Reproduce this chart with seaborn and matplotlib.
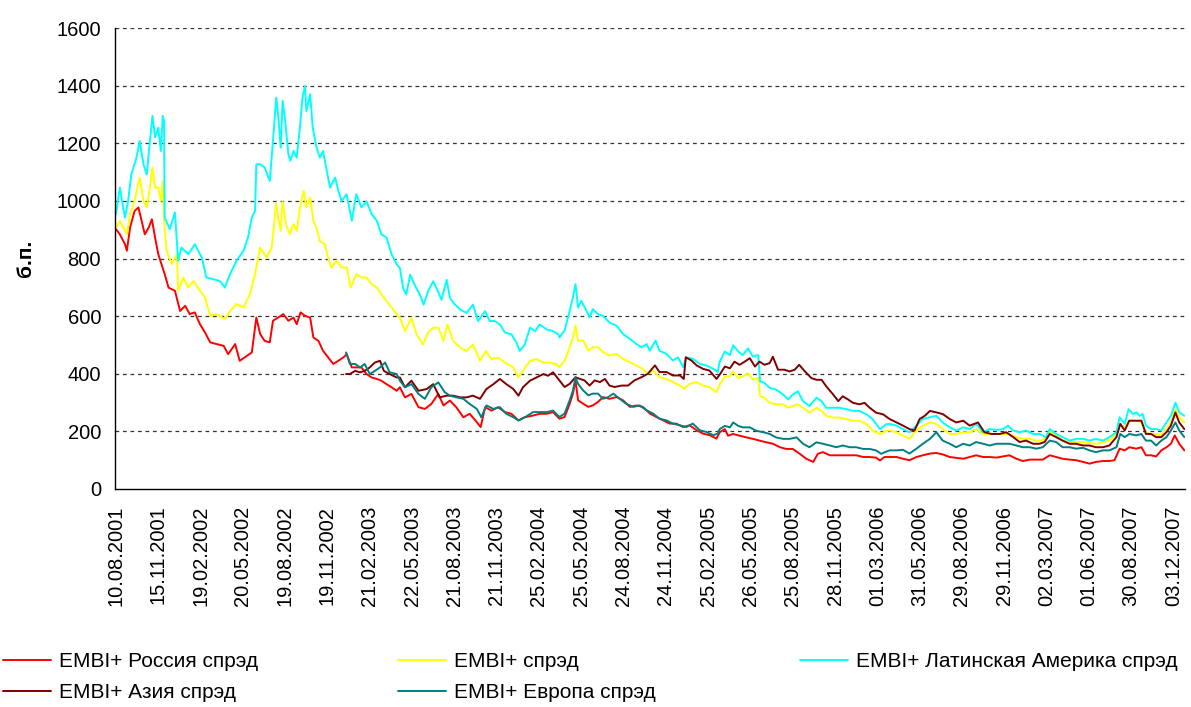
import numpy as np
import pandas as pd
import matplotlib
matplotlib.use("Agg")
import matplotlib.pyplot as plt
from matplotlib.lines import Line2D
import seaborn as sns

# ---------------- data (trading-day index, basis points) ----------------
tick_labels = ["10.08.2001", "15.11.2001", "19.02.2002", "20.05.2002", "19.08.2002",
               "19.11.2002", "21.02.2003", "22.05.2003", "21.08.2003", "21.11.2003",
               "25.02.2004", "25.05.2004", "24.08.2004", "24.11.2004", "25.02.2005",
               "26.05.2005", "25.08.2005", "28.11.2005", "01.03.2006", "31.05.2006",
               "29.08.2006", "29.11.2006", "02.03.2007", "01.06.2007", "30.08.2007",
               "03.12.2007"]
label_step = 66

russia_day = [0, 6, 14, 17, 22, 29, 35, 40, 45, 51, 56, 61, 66, 71, 76, 82, 92, 100, 108, 115, 123, 131, 139, 147, 157, 168, 175, 186, 193, 201, 212, 219,
              225, 232, 240, 245, 253, 261, 269, 277, 282, 288, 295, 303, 308, 316, 323, 331, 339, 347, 355, 360, 368, 375, 383, 391, 399, 407, 414, 422, 430, 438,
              443, 451, 461, 472, 482, 492, 503, 511, 521, 531, 542, 552, 563, 569, 576, 586, 596, 607, 617, 628, 638, 651, 661, 672, 682,
              692, 700, 708, 713, 717, 721, 729, 737, 744, 752, 760, 770, 781, 791, 802, 812, 822, 833, 843, 854, 864, 874, 885, 895, 906, 916, 926, 937,
              942, 950, 955, 963, 973, 984, 994, 1004, 1015, 1025, 1036, 1046, 1056, 1067, 1077, 1088, 1095, 1103, 1114, 1124, 1134, 1145, 1155, 1166, 1176, 1186, 1192, 1199,
              1207, 1218, 1228, 1238, 1249, 1259, 1270, 1280, 1290, 1301, 1311, 1322, 1332, 1342, 1353, 1363, 1374, 1384, 1394, 1405, 1415, 1426, 1436, 1446,
              1457, 1467, 1477, 1488, 1498, 1509, 1519, 1529, 1540, 1550, 1558, 1566, 1574, 1581, 1592, 1600, 1607, 1615, 1623, 1631, 1639, 1646, 1652, 1659, 1667]
russia_bp = [902, 884, 850, 827, 907, 965, 977, 930, 884, 907, 936, 873, 815, 780, 746, 699, 688, 618, 636, 607, 613, 572, 543, 509, 503, 497, 468, 503, 445, 457, 474, 595,
             538, 514, 509, 584, 595, 607, 584, 595, 572, 613, 601, 595, 526, 514, 480, 457, 434, 445, 457, 468, 422, 422, 422, 399, 387, 382, 376, 364, 353, 341,
             353, 318, 330, 284, 278, 295, 330, 290, 307, 284, 249, 261, 232, 215, 284, 272, 284, 267, 261, 238, 249, 255, 261, 261, 267,
             244, 250, 296, 331, 377, 308, 296, 285, 290, 302, 319, 313, 319, 308, 285, 290, 285, 262, 250, 238, 227, 227, 215, 221, 204, 192, 187, 175,
             197, 208, 185, 191, 185, 179, 174, 168, 162, 157, 145, 139, 139, 122, 105, 94, 122, 128, 117, 117, 117, 117, 117, 111, 111, 109, 99, 111,
             111, 111, 105, 100, 111, 117, 123, 125, 120, 111, 108, 105, 111, 117, 111, 111, 109, 113, 117, 105, 97, 102, 102, 102,
             117, 111, 105, 102, 100, 94, 88, 94, 97, 97, 100, 140, 134, 145, 140, 145, 117, 117, 113, 134, 145, 157, 186, 157, 134]

embi_day = [0, 6, 17, 22, 29, 37, 43, 48, 53, 57, 61, 66, 70, 73, 75, 79, 87, 95, 97, 105, 113, 121, 131, 139, 147, 157, 170, 178, 188, 199, 209, 217,
            225, 235, 243, 250, 253, 257, 260, 265, 271, 277, 282, 287, 293, 297, 303, 308, 313, 318, 326, 331, 336, 344, 352, 360, 366, 375, 383, 391, 399, 407, 414, 422, 430, 438,
            443, 451, 461, 469, 479, 487, 495, 503, 511, 517, 526, 537, 547, 557, 568, 577, 586, 596, 607, 620, 628, 635, 646, 656, 667, 677, 687,
            692, 700, 708, 713, 717, 721, 729, 737, 744, 752, 760, 770, 781, 791, 802, 812, 822, 830, 838, 848, 859, 869, 880, 887, 895, 906, 916, 926, 937,
            942, 950, 958, 963, 971, 978, 986, 994, 1002, 1005, 1012, 1020, 1030, 1041, 1049, 1056, 1064, 1072, 1082, 1093, 1101, 1108, 1119, 1129, 1140, 1150, 1160, 1171, 1181, 1192, 1202,
            1207, 1218, 1228, 1238, 1249, 1259, 1270, 1280, 1290, 1301, 1311, 1322, 1332, 1342, 1353, 1363, 1374, 1384, 1394, 1405, 1415, 1426, 1436, 1446,
            1457, 1467, 1477, 1488, 1498, 1509, 1519, 1529, 1540, 1550, 1561, 1566, 1574, 1581, 1592, 1600, 1607, 1615, 1623, 1631, 1639, 1646, 1653, 1659, 1667]
embi_bp = [907, 930, 884, 954, 1000, 1081, 1000, 977, 1046, 1116, 1046, 1046, 1000, 1069, 930, 827, 780, 815, 688, 734, 699, 722, 688, 665, 601, 607, 590, 618, 642, 630, 676, 746,
           838, 803, 838, 992, 942, 896, 998, 919, 884, 919, 896, 977, 1035, 977, 1012, 930, 907, 861, 850, 803, 769, 792, 769, 769, 699, 746, 734, 734, 711, 699, 676, 653, 630, 607,
           594, 548, 594, 537, 502, 543, 560, 560, 514, 571, 514, 491, 479, 502, 445, 479, 451, 456, 439, 422, 387, 410, 445, 451, 439, 439, 433,
           423, 446, 492, 526, 567, 515, 515, 480, 492, 492, 475, 463, 469, 452, 440, 429, 417, 400, 411, 388, 382, 371, 359, 348, 365, 371, 359, 354, 336,
           362, 391, 391, 408, 385, 391, 402, 379, 385, 322, 317, 299, 294, 294, 282, 288, 294, 282, 265, 282, 271, 254, 248, 248, 242, 237, 237, 225, 202, 191, 202,
           203, 197, 186, 174, 203, 220, 231, 226, 208, 191, 191, 197, 197, 208, 191, 191, 191, 191, 191, 180, 174, 174, 168, 168,
           197, 186, 168, 163, 163, 163, 159, 157, 163, 168, 191, 226, 214, 237, 237, 231, 197, 191, 191, 186, 208, 231, 277, 249, 231]

latam_day = [0, 6, 14, 19, 24, 32, 37, 43, 48, 53, 57, 61, 66, 70, 73, 75, 76, 84, 92, 97, 102, 113, 123, 134, 141, 152, 162, 170, 178, 188, 199, 206, 212, 217, 219,
             225, 232, 240, 245, 250, 253, 257, 260, 264, 269, 272, 277, 282, 287, 291, 295, 297, 303, 307, 313, 318, 323, 329, 334, 342, 347, 352, 360, 368, 375, 383, 391, 399, 407, 414, 422, 430, 438,
             443, 448, 453, 459, 466, 474, 480, 487, 495, 500, 508, 516, 521, 529, 537, 547, 557, 565, 576, 583, 591, 599, 607, 617, 625, 630, 638, 646, 654, 661, 672, 682, 690,
             692, 700, 708, 713, 717, 721, 726, 734, 739, 744, 752, 760, 770, 781, 791, 802, 812, 820, 828, 833, 842, 848, 859, 869, 877, 885, 890, 900, 911, 921, 932, 939,
             942, 950, 958, 963, 971, 978, 986, 994, 1002, 1005, 1012, 1020, 1030, 1041, 1049, 1056, 1064, 1072, 1082, 1093, 1101, 1108, 1119, 1129, 1140, 1150, 1160, 1171, 1181, 1192, 1202,
             1207, 1218, 1228, 1238, 1249, 1259, 1270, 1280, 1290, 1301, 1311, 1322, 1332, 1342, 1353, 1363, 1374, 1384, 1392, 1400, 1410, 1420, 1431, 1441, 1451,
             1457, 1467, 1477, 1488, 1498, 1509, 1519, 1529, 1540, 1550, 1561, 1566, 1574, 1580, 1587, 1592, 1597, 1602, 1607, 1615, 1623, 1631, 1639, 1646, 1653, 1659, 1667]
latam_bp = [954, 1046, 942, 1000, 1092, 1150, 1208, 1127, 1092, 1208, 1295, 1220, 1254, 1173, 1295, 1277, 942, 902, 960, 792, 838, 815, 850, 803, 734, 728, 722, 699, 746, 792, 827, 873, 942, 965, 1127,
            1127, 1116, 1069, 1208, 1358, 1300, 1185, 1347, 1277, 1162, 1139, 1173, 1150, 1254, 1358, 1399, 1312, 1370, 1254, 1185, 1150, 1173, 1104, 1046, 1081, 1035, 1000, 1023, 931, 1023, 977, 998, 954, 931, 884, 873, 815, 780,
            767, 698, 675, 744, 709, 675, 640, 686, 721, 698, 657, 726, 663, 640, 623, 611, 640, 583, 617, 583, 583, 571, 543, 537, 508, 479, 502, 560, 548, 571, 554, 548, 537,
            526, 550, 619, 665, 711, 630, 653, 619, 596, 624, 607, 601, 578, 567, 538, 521, 503, 492, 503, 480, 515, 480, 469, 446, 457, 423, 457, 452, 434, 429, 417, 406,
            442, 477, 465, 499, 477, 465, 488, 459, 465, 374, 368, 351, 345, 328, 311, 328, 339, 305, 288, 317, 305, 282, 282, 282, 277, 271, 271, 259, 242, 208, 225,
            226, 220, 208, 197, 220, 243, 249, 254, 231, 214, 203, 214, 208, 226, 197, 208, 205, 208, 220, 203, 197, 203, 191, 191, 180,
            208, 191, 180, 168, 174, 174, 168, 174, 168, 180, 197, 249, 226, 277, 260, 266, 254, 260, 220, 208, 208, 203, 231, 254, 300, 266, 254]

asia_day = [359, 365, 373, 381, 388, 396, 404, 412, 418, 427, 438,
            443, 451, 461, 472, 485, 495, 505, 516, 526, 537, 547, 557, 568, 578, 589, 599, 609, 620, 628, 635, 646, 656, 667, 674, 682,
            692, 700, 708, 717, 724, 731, 739, 747, 755, 763, 770, 778, 789, 799, 809, 820, 830, 841, 848, 859, 869, 880, 886, 889, 898, 906, 916, 926, 937,
            942, 950, 958, 965, 973, 981, 989, 997, 1004, 1012, 1020, 1025, 1033, 1043, 1051, 1059, 1066, 1075, 1085, 1093, 1101, 1108, 1119, 1127, 1134, 1142, 1150, 1160, 1168, 1176, 1186, 1197,
            1207, 1218, 1228, 1238, 1246, 1254, 1262, 1270, 1280, 1290, 1301, 1311, 1322, 1332, 1345, 1355, 1366, 1379, 1389, 1400, 1410, 1420, 1431, 1441, 1449,
            1457, 1467, 1477, 1488, 1498, 1509, 1519, 1529, 1540, 1550, 1561, 1567, 1574, 1581, 1592, 1600, 1607, 1615, 1623, 1631, 1639, 1646, 1653, 1659, 1667]
asia_bp = [399, 399, 410, 405, 410, 422, 439, 445, 410, 399, 387,
           387, 353, 376, 341, 347, 364, 318, 324, 324, 318, 318, 324, 313, 347, 364, 382, 364, 347, 324, 353, 376, 387, 399, 393, 405,
           377, 354, 365, 388, 382, 377, 359, 377, 371, 382, 359, 354, 359, 359, 377, 388, 400, 429, 406, 406, 394, 394, 382, 457, 446, 429, 417, 411, 382,
           397, 425, 419, 442, 431, 442, 454, 425, 442, 431, 437, 459, 414, 414, 408, 414, 431, 408, 385, 379, 379, 357, 328, 305, 322, 311, 299, 294, 299, 282, 265, 259,
           243, 231, 220, 208, 203, 243, 254, 271, 266, 260, 243, 231, 237, 220, 231, 197, 191, 191, 197, 180, 163, 168, 157, 157, 163,
           191, 180, 168, 157, 157, 151, 151, 145, 145, 151, 180, 226, 203, 237, 237, 237, 191, 191, 180, 180, 197, 220, 266, 231, 208]

europe_day = [359, 365, 373, 381, 388, 396, 404, 412, 420, 427, 438,
              443, 451, 461, 472, 482, 492, 503, 513, 521, 531, 542, 552, 563, 570, 578, 589, 599, 609, 620, 628, 638, 651, 661, 672, 682,
              692, 700, 708, 713, 717, 721, 729, 737, 744, 752, 760, 768, 776, 786, 796, 807, 817, 828, 838, 848, 859, 869, 880, 890, 900, 911, 921, 932, 939,
              942, 950, 958, 963, 971, 978, 989, 999, 1010, 1020, 1030, 1041, 1051, 1062, 1072, 1082, 1093, 1103, 1114, 1124, 1134, 1145, 1155, 1166, 1176, 1186, 1194, 1202,
              1207, 1218, 1228, 1238, 1249, 1259, 1270, 1280, 1290, 1301, 1311, 1322, 1332, 1342, 1353, 1363, 1374, 1384, 1394, 1405, 1415, 1426, 1436, 1446,
              1457, 1467, 1477, 1488, 1498, 1509, 1519, 1529, 1540, 1550, 1561, 1567, 1574, 1581, 1592, 1600, 1607, 1615, 1623, 1631, 1639, 1646, 1653, 1659, 1667]
europe_bp = [474, 434, 434, 422, 434, 399, 410, 422, 439, 405, 399,
             376, 353, 364, 330, 313, 353, 370, 336, 324, 318, 313, 295, 278, 249, 290, 278, 284, 261, 249, 238, 249, 267, 267, 267, 272,
             250, 262, 308, 342, 388, 365, 342, 325, 331, 331, 313, 319, 331, 313, 296, 285, 290, 273, 262, 244, 238, 227, 221, 215, 227, 204, 198, 187, 192,
             208, 219, 214, 231, 219, 214, 214, 202, 197, 191, 179, 174, 174, 179, 157, 145, 162, 157, 151, 145, 151, 145, 145, 139, 139, 134, 122, 130,
             134, 134, 136, 123, 140, 157, 174, 197, 168, 157, 145, 157, 151, 163, 157, 151, 157, 157, 157, 151, 145, 145, 140, 145,
             168, 163, 145, 145, 140, 143, 134, 128, 134, 134, 145, 191, 180, 191, 186, 191, 168, 168, 151, 168, 180, 203, 231, 203, 180]

series_names = ["EMBI+ Россия спрэд", "EMBI+ спрэд", "EMBI+ Латинская Америка спрэд",
                "EMBI+ Азия спрэд", "EMBI+ Европа спрэд"]
series_colors = ["#FF0000", "#FFFF00", "#00FFFF", "#800000", "#008080"]

frames = []
for name, d, v in zip(series_names,
                      [russia_day, embi_day, latam_day, asia_day, europe_day],
                      [russia_bp, embi_bp, latam_bp, asia_bp, europe_bp]):
    assert len(d) == len(v), name
    frames.append(pd.DataFrame({"day": d, "bp": v, "series": name}))
df = pd.concat(frames, ignore_index=True)

# ---------------- style ----------------
sns.set_style("white")
plt.rcParams["font.family"] = ["Liberation Sans", "DejaVu Sans"]
plt.rcParams["text.color"] = "black"
plt.rcParams["axes.labelcolor"] = "black"

W, H = 1191, 707
fig = plt.figure(figsize=(W / 100, H / 100), dpi=100)
ax = fig.add_axes([115 / W, 1 - 489 / H, (1185 - 115) / W, (489 - 28) / H])

sns.lineplot(data=df, x="day", y="bp", hue="series", hue_order=series_names,
             palette=dict(zip(series_names, series_colors)), estimator=None,
             sort=False, linewidth=1.4, legend=False, ax=ax)

ax.set_xlim(-1.5, 1668)
ax.set_ylim(0, 1600)
ax.set_yticks(np.arange(0, 1601, 200))
ax.tick_params(axis="y", labelsize=14.5, length=5, width=1, direction="out",
               pad=5, colors="black")
for yv in range(200, 1601, 200):
    ax.axhline(yv, color="#333333", lw=0.9, ls=(0, (3, 3)), zorder=0.5)

major = np.arange(len(tick_labels)) * label_step
ax.set_xticks(major)
ax.set_xticklabels(tick_labels, rotation=90, fontsize=14.5)
ax.set_xticks(np.arange(0, 1668, 3), minor=True)
ax.tick_params(axis="x", which="major", length=5, width=1, pad=7, colors="black")
ax.tick_params(axis="x", which="minor", length=5, width=0.8, colors="black")

for s in ["top", "right"]:
    ax.spines[s].set_visible(False)
for s in ["left", "bottom"]:
    ax.spines[s].set_color("black")
    ax.spines[s].set_linewidth(1.0)

ax.set_xlabel("")
ax.set_ylabel("б.п.", fontsize=15, fontweight="bold", color="black")
ax.yaxis.set_label_coords((35 - 115) / (1185 - 115), 0.5)

# ---------------- legend (three columns) ----------------
handles = [Line2D([], [], color=c, lw=1.4) for c in series_colors]
cols = [([0, 3], 3), ([1, 4], 398), ([2], 800)]
for idxs, xpix in cols:
    fig.legend([handles[i] for i in idxs], [series_names[i] for i in idxs],
               loc="upper left", bbox_to_anchor=(xpix / W, 1 - 652 / H),
               frameon=False, fontsize=15, handlelength=2.3, handletextpad=0.4,
               borderpad=0, borderaxespad=0, labelspacing=0.6, labelcolor="black")

fig.savefig("out.png", dpi=100)
